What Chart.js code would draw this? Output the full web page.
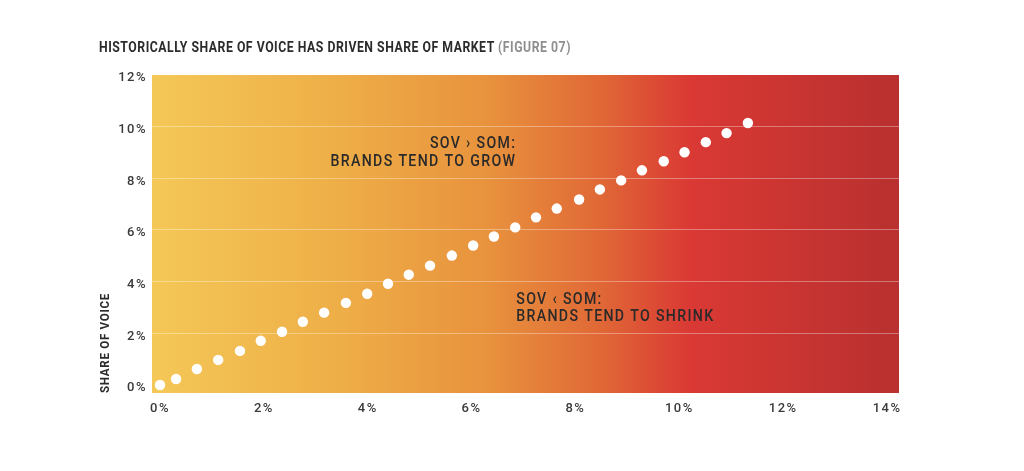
<!DOCTYPE html>
<html>
<head>
<meta charset="utf-8">
<script src="https://cdn.jsdelivr.net/npm/chart.js@4/dist/chart.umd.min.js"></script>
<style>
  html, body { margin: 0; padding: 0; background: #fff; }
  #wrap { position: relative; width: 1024px; height: 471px; overflow: hidden; }
  #title {
    position: absolute; left: 99px; top: 39px;
    font: bold 14px Roboto, sans-serif;
    letter-spacing: 0.6px; color: #2b2b2b; white-space: nowrap;
    transform: scaleX(0.875); transform-origin: left top;
  }
  #title span { color: #8e8e8e; }
  canvas { position: absolute; left: 0; top: 0; }
</style>
</head>
<body>
<div id="wrap">
  <canvas id="sovChart" width="1024" height="471"></canvas>
  <div id="title">HISTORICALLY SHARE OF VOICE HAS DRIVEN SHARE OF MARKET <span>(FIGURE 07)</span></div>
</div>
<script>
// share of market (x) and share of voice (y), in %
const marketShare = [0, 0.31, 0.71, 1.12, 1.54, 1.94, 2.35, 2.75, 3.16, 3.58, 3.99, 4.39, 4.79, 5.20, 5.62,
  6.03, 6.43, 6.84, 7.24, 7.64, 8.07, 8.47, 8.88, 9.28, 9.70, 10.10, 10.51, 10.91, 11.32];
const voiceShare = [0, 0.23, 0.62, 0.97, 1.32, 1.71, 2.06, 2.45, 2.80, 3.18, 3.53, 3.92, 4.27, 4.62, 5.01,
  5.40, 5.75, 6.10, 6.49, 6.83, 7.18, 7.57, 7.92, 8.31, 8.66, 9.01, 9.40, 9.75, 10.14];
const xTicks = [0, 2, 4, 6, 8, 10, 12, 14];
const yTicks = [0, 2, 4, 6, 8, 10, 12];

const FONT = "Roboto, sans-serif";

// text boxes inside the plot
const notes = [
  { x: 6.86, y: 9.32, text: "SOV › SOM:", align: "right" },
  { x: 6.86, y: 8.63, text: "BRANDS TEND TO GROW", align: "right" },
  { x: 6.86, y: 3.30, text: "SOV ‹ SOM:", align: "left" },
  { x: 6.86, y: 2.63, text: "BRANDS TEND TO SHRINK", align: "left" },
];

const bgPlugin = {
  id: "bg",
  beforeDraw(chart) {
    const { ctx, chartArea: a } = chart;
    const g = ctx.createLinearGradient(a.left, 0, a.right, 0);
    g.addColorStop(0, "#f4c857");
    g.addColorStop(0.25, "#eeae47");
    g.addColorStop(0.45, "#e8923d");
    g.addColorStop(0.6, "#e06836");
    g.addColorStop(0.72, "#da3934");
    g.addColorStop(1, "#b8302f");
    ctx.fillStyle = g;
    ctx.fillRect(a.left, a.top, a.right - a.left, a.bottom - a.top);
    ctx.letterSpacing = "1.5px";
  },
  afterDraw(chart) {
    const { ctx, scales, chartArea: a } = chart;
    ctx.save();
    ctx.font = "500 16px " + FONT;
    ctx.letterSpacing = "1.5px";
    ctx.fillStyle = "#2a2a2a";
    ctx.textBaseline = "middle";
    notes.forEach(n => {
      ctx.save();
      ctx.translate(scales.x.getPixelForValue(n.x), scales.y.getPixelForValue(n.y));
      ctx.scale(0.885, 1);
      ctx.textAlign = n.align;
      ctx.fillText(n.text, 0, 0);
      ctx.restore();
    });
    // y axis title, bottom aligned
    ctx.font = "bold 13px " + FONT;
    ctx.letterSpacing = "0.8px";
    ctx.fillStyle = "#2b2b2b";
    ctx.translate(a.left - 46, a.bottom);
    ctx.rotate(-Math.PI / 2);
    ctx.scale(0.89, 1);
    ctx.textAlign = "left";
    ctx.fillText("SHARE OF VOICE", 0, 0);
    ctx.restore();
  }
};

new Chart(document.getElementById("sovChart"), {
  type: "scatter",
  data: {
    datasets: [{
      data: marketShare.map((x, i) => ({ x, y: voiceShare[i] })),
      backgroundColor: "#ffffff",
      borderWidth: 0,
      pointRadius: 5.2,
    }]
  },
  options: {
    responsive: false,
    animation: false,
    layout: { padding: { left: 97, top: 75, right: 125, bottom: 0 } },
    plugins: { legend: { display: false }, tooltip: { enabled: false } },
    scales: {
      x: {
        type: "linear", min: -0.154, max: 14.23,
        afterBuildTicks: s => { s.ticks = xTicks.map(v => ({ value: v })); },
        afterFit: s => { s.height = 78; },
        grid: { display: false, drawTicks: false },
        border: { display: false },
        ticks: {
          autoSkip: false, maxRotation: 0, padding: 8,
          color: "#3a3a3a", font: { family: FONT, size: 13, weight: "500" },
          callback: v => v + "%"
        }
      },
      y: {
        min: -0.31, max: 12,
        afterBuildTicks: s => { s.ticks = yTicks.map(v => ({ value: v })); },
        afterFit: s => { s.width = 55; },
        grid: {
          drawTicks: false, lineWidth: 1,
          color: c => (c.tick && (c.tick.value === 0 || c.tick.value === 12)) ? "rgba(0,0,0,0)" : "rgba(255,255,255,0.35)"
        },
        border: { display: false },
        ticks: {
          padding: 5, labelOffset: 3, color: "#3a3a3a", font: { family: FONT, size: 13, weight: "500" },
          callback: v => v + "%"
        }
      }
    }
  },
  plugins: [bgPlugin]
});
</script>
</body>
</html>
